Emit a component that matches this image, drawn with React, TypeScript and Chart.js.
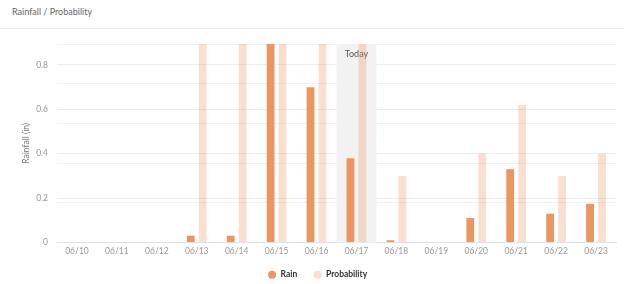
import React, { useEffect, useRef } from "react";
import { Chart, registerables } from "chart.js";

Chart.register(...registerables);

const categories = ["06/10", "06/11", "06/12", "06/13", "06/14", "06/15", "06/16", "06/17", "06/18", "06/19", "06/20", "06/21", "06/22", "06/23"];
const rainValues = [0, 0, 0, 0.03, 0.03, 0.894, 0.7, 0.38, 0.01, 0, 0.11, 0.33, 0.13, 0.175];
const probabilityValues = [0, 0, 0, 1, 1, 1, 1, 1, 0.3, 0, 0.4, 0.62, 0.3, 0.4];
const yTicks = [0, 0.2, 0.4, 0.6, 0.8];
const todayLabel = "06/17";

const FONT = "Lato, 'Open Sans', sans-serif";

const todayPlugin = {
  id: "todayBand",
  beforeDatasetsDraw(chart: any) {
    const x = chart.scales.x;
    const idx = categories.indexOf(todayLabel);
    if (idx < 0) return;
    const center = x.getPixelForValue(idx);
    const w = x.width / categories.length;
    const { top, bottom } = chart.chartArea;
    const ctx = chart.ctx;
    ctx.save();
    ctx.fillStyle = "#f2f2f2";
    ctx.fillRect(center - w / 2, top, w, bottom - top);
    ctx.fillStyle = "#555";
    ctx.font = `9px ${FONT}`;
    ctx.textAlign = "center";
    ctx.textBaseline = "middle";
    ctx.fillText("Today", center, top + 9.5);
    ctx.restore();
  },
};

export default function App() {
  const ref = useRef<HTMLCanvasElement | null>(null);
  useEffect(() => {
    if (!ref.current) return;
    const chart = new Chart(ref.current, {
      type: "bar",
      data: {
        labels: categories,
        datasets: [
          {
            label: "Rain",
            data: rainValues,
            backgroundColor: "rgb(233,150,96)",
            borderWidth: 0,
            yAxisID: "y",
            barPercentage: 0.65,
            categoryPercentage: 0.6,
          },
          {
            label: "Probability",
            data: probabilityValues,
            backgroundColor: "rgba(233,150,96,0.3)",
            borderWidth: 0,
            yAxisID: "y",
            barPercentage: 0.65,
            categoryPercentage: 0.6,
          },
        ],
      },
      options: {
        animation: false,
        responsive: false,
        maintainAspectRatio: false,
        layout: { padding: { left: 11, right: 0, top: 14, bottom: 0 } },
        plugins: {
          legend: {
            position: "bottom",
            labels: {
              usePointStyle: true,
              pointStyle: "circle",
              boxWidth: 10,
              boxHeight: 5.7,
              padding: 16,
              color: "#333",
              font: { family: FONT, size: 8.5, weight: "bold" },
            },
          },
          tooltip: { enabled: false },
        },
        scales: {
          x: {
            grid: { display: false, drawTicks: false },
            border: { display: true, color: "#dfe2ea" },
            ticks: { color: "#999", padding: 4, font: { family: FONT, size: 8.5 }, maxRotation: 0 },
            afterFit(scale: any) {
              scale.height = 12;
            },
          },
          y: {
            position: "left",
            min: 0,
            max: Math.max(...rainValues),
            afterBuildTicks(scale: any) {
              scale.ticks = yTicks.map((v) => ({ value: v }));
            },
            grid: { color: "#ececec", drawTicks: false },
            border: { display: false },
            ticks: {
              color: "#999",
              padding: 9,
              font: { family: FONT, size: 8.5 },
              callback: (v: any) => String(v),
            },
            title: {
              display: true,
              text: "Rainfall (in)",
              color: "#777",
              font: { family: FONT, size: 8.5 },
              padding: { top: 10, bottom: 0 },
            },
            afterFit(scale: any) {
              scale.width = 46;
            },
          },
          y2: {
            position: "right",
            min: 0,
            max: 1,
            ticks: { display: false, stepSize: 0.2 },
            grid: { color: "#f0f0f0", drawTicks: false },
            border: { display: false },
            afterFit(scale: any) {
              scale.width = 8;
            },
          },
        },
      },
      plugins: [todayPlugin],
    });
    return () => chart.destroy();
  }, []);

  return (
    <div style={{ position: "fixed", left: 0, top: 0, width: 624, height: 284, background: "#fff", overflow: "hidden" }}>
      <div style={{ position: "absolute", left: 12, top: 6, fontFamily: FONT, fontSize: 9, color: "#666" }}>
        Rainfall / Probability
      </div>
      <div style={{ position: "absolute", left: 0, top: 28, width: 624, height: 1, background: "#eeeeee" }} />
      <canvas ref={ref} width={624} height={259} style={{ position: "absolute", left: 0, top: 30, width: 624, height: 259 }} />
    </div>
  );
}
